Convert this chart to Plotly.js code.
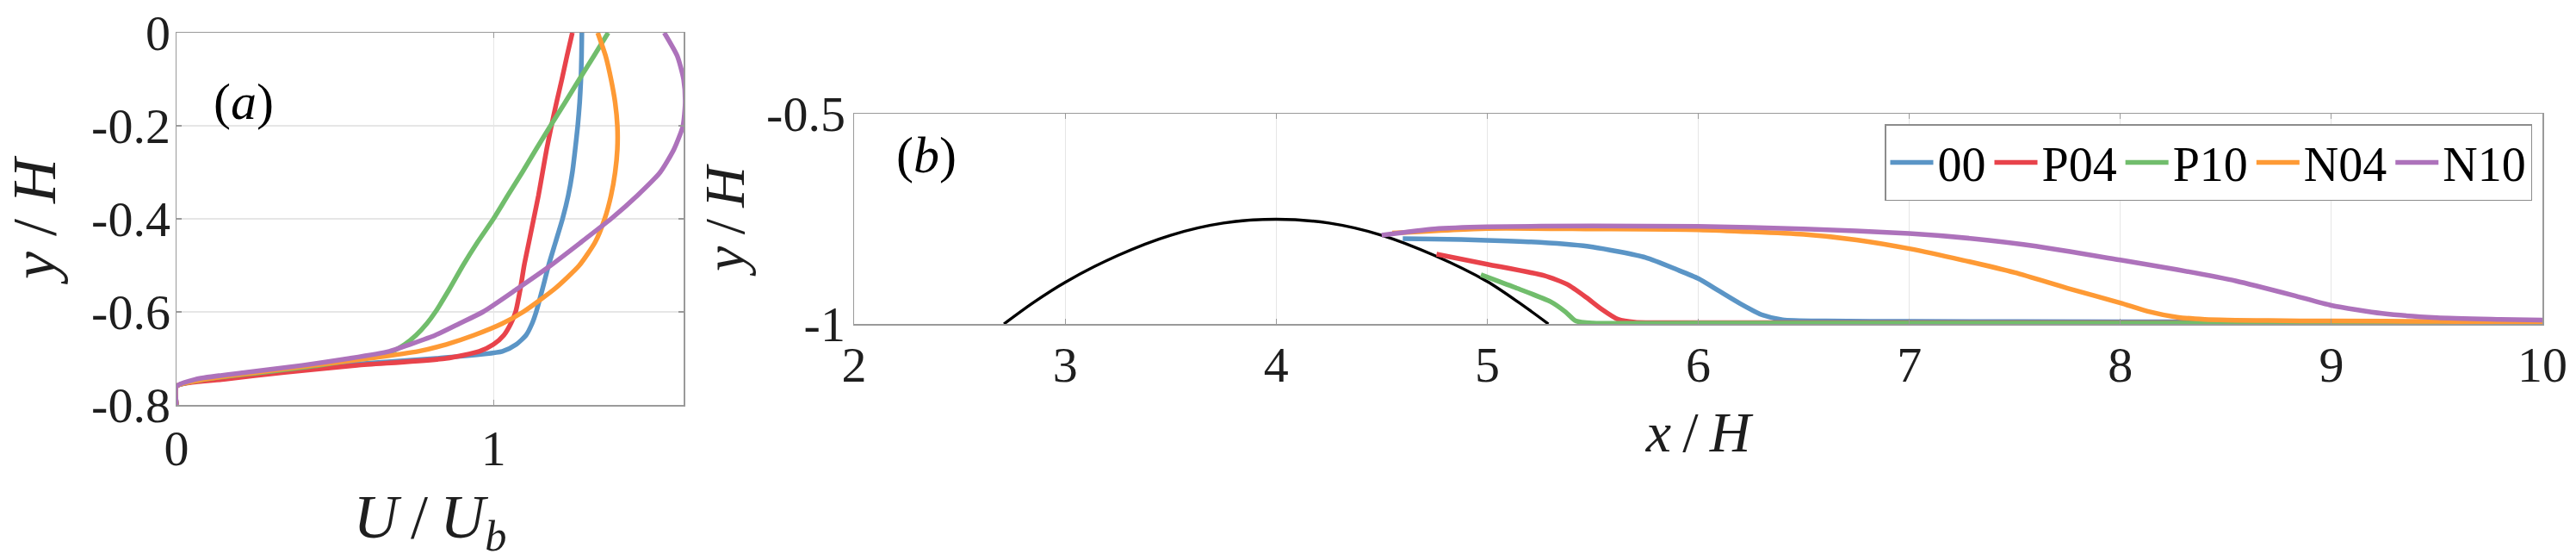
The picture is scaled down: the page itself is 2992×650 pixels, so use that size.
<!DOCTYPE html>
<html>
<head>
<meta charset="utf-8">
<script src="https://cdn.plot.ly/plotly-3.0.1.min.js"></script>
<style>html,body{margin:0;padding:0;background:#fff;}#chart{width:2992px;height:650px;}</style>
</head>
<body>
<div id="chart"></div>
<script>
// ---------- Panel (a): velocity profiles U/Ub vs y/H ----------
const yA = [0, -0.05, -0.1, -0.15, -0.2, -0.25, -0.3, -0.35, -0.4, -0.45, -0.5, -0.55, -0.6, -0.625, -0.65, -0.67, -0.685, -0.7, -0.715, -0.73, -0.745, -0.76, -0.8];
const uA_00  = [1.279,1.278,1.276,1.272,1.266,1.258,1.249,1.236,1.218,1.196,1.174,1.155,1.135,1.122,1.103,1.072,1.028,0.82,0.513,0.29,0.10,0,0];
const uA_P04 = [1.249,1.232,1.216,1.199,1.183,1.168,1.155,1.142,1.127,1.112,1.097,1.085,1.07,1.055,1.033,1.0,0.955,0.85,0.57,0.34,0.15,0,0];
const uA_P10 = [1.362,1.317,1.271,1.226,1.18,1.135,1.091,1.045,1.0,0.95,0.904,0.862,0.817,0.79,0.756,0.72,0.68,0.58,0.45,0.27,0.09,0,0];
const uA_N04 = [1.329,1.354,1.371,1.384,1.391,1.391,1.384,1.371,1.351,1.321,1.271,1.194,1.094,1.028,0.939,0.851,0.762,0.607,0.43,0.252,0.086,0,0];
const uA_N10 = [1.539,1.58,1.6,1.605,1.598,1.57,1.526,1.454,1.371,1.277,1.181,1.076,0.967,0.893,0.817,0.736,0.671,0.546,0.396,0.219,0.059,0,0];

// ---------- Panel (b): separation line y/H vs x/H ----------
const xHill = [2.71, 2.85, 3.0, 3.25, 3.5, 3.75, 4.0, 4.25, 4.5, 4.75, 5.0, 5.15, 5.29];
const yHill = [-1.0, -0.949, -0.901, -0.837, -0.789, -0.760, -0.751, -0.760, -0.789, -0.837, -0.899, -0.949, -1.0];

const xB_00  = [4.6, 4.75, 5.0, 5.25, 5.5, 5.75, 5.9, 6.0, 6.1, 6.2, 6.3, 6.4, 6.6, 7.0, 8.0, 9.0, 10.0];
const yB_00  = [-0.797, -0.798, -0.801, -0.806, -0.817, -0.842, -0.871, -0.892, -0.922, -0.952, -0.978, -0.990, -0.993, -0.994, -0.995, -0.995, -0.996];
const xB_P04 = [4.76, 5.0, 5.27, 5.38, 5.47, 5.54, 5.62, 5.7, 6.0, 7.0, 8.0, 9.0, 10.0];
const yB_P04 = [-0.834, -0.858, -0.885, -0.906, -0.937, -0.964, -0.989, -0.996, -0.997, -0.997, -0.997, -0.997, -0.997];
const xB_P10 = [4.97, 5.13, 5.3, 5.37, 5.42, 5.5, 6.0, 7.0, 8.0, 9.0, 10.0];
const yB_P10 = [-0.883, -0.913, -0.947, -0.971, -0.993, -0.998, -0.998, -0.998, -0.998, -0.998, -0.998];
const xB_N04 = [4.55, 5.0, 5.5, 6.0, 6.5, 6.75, 7.0, 7.25, 7.5, 7.75, 8.0, 8.13, 8.27, 8.4, 8.7, 9.0, 9.5, 10.0];
const yB_N04 = [-0.784, -0.773, -0.774, -0.776, -0.787, -0.800, -0.821, -0.848, -0.878, -0.915, -0.950, -0.970, -0.984, -0.989, -0.992, -0.993, -0.994, -0.996];
const xB_N10 = [4.5, 4.75, 5.0, 5.5, 6.0, 6.5, 7.0, 7.3, 7.6, 8.0, 8.27, 8.55, 8.82, 9.0, 9.24, 9.5, 9.8, 10.0];
const yB_N10 = [-0.789, -0.774, -0.769, -0.767, -0.768, -0.774, -0.785, -0.797, -0.815, -0.848, -0.871, -0.898, -0.932, -0.956, -0.975, -0.985, -0.989, -0.991];

const seriesNames = ['00', 'P04', 'P10', 'N04', 'N10'];
const seriesColors = ['#5b95c6', '#e8434b', '#71bd6c', '#fe9a35', '#ad72bb'];

// tick labels
const xTicksA = [0, 1];            const xTickTextA = ['0', '1'];
const yTicksA = [0, -0.2, -0.4, -0.6, -0.8]; const yTickTextA = ['0', '-0.2', '-0.4', '-0.6', '-0.8'];
const xTicksB = [2, 3, 4, 5, 6, 7, 8, 9, 10]; const xTickTextB = ['2','3','4','5','6','7','8','9','10'];
const yTicksB = [-0.5, -1];        const yTickTextB = ['-0.5', '-1'];

const uA = [uA_00, uA_P04, uA_P10, uA_N04, uA_N10];
const xB = [xB_00, xB_P04, xB_P10, xB_N04, xB_N10];
const yB = [yB_00, yB_P04, yB_P10, yB_N04, yB_N10];

const FONT = 'Liberation Serif';
const TXT = '#1e1e1e';
const LW = 5.5;

const traces = [];
for (let i = 0; i < 5; i++) {
  traces.push({
    type: 'scatter', mode: 'lines', x: uA[i], y: yA, xaxis: 'x', yaxis: 'y',
    line: {color: seriesColors[i], width: LW, shape: 'spline', smoothing: 0.6},
    showlegend: false, hoverinfo: 'skip', name: seriesNames[i]
  });
}
traces.push({
  type: 'scatter', mode: 'lines', x: xHill, y: yHill, xaxis: 'x2', yaxis: 'y2',
  line: {color: '#000000', width: 3.4, shape: 'spline', smoothing: 0.8},
  showlegend: false, hoverinfo: 'skip'
});
for (let i = 0; i < 5; i++) {
  traces.push({
    type: 'scatter', mode: 'lines', x: xB[i], y: yB[i], xaxis: 'x2', yaxis: 'y2',
    line: {color: seriesColors[i], width: LW, shape: 'spline', smoothing: 0.6},
    name: seriesNames[i], showlegend: true, hoverinfo: 'skip'
  });
}

function axisBase() {
  return {
    showline: true, linecolor: '#9a9a9a', linewidth: 1.5, mirror: 'ticks',
    ticks: 'inside', ticklen: 6, tickwidth: 1.2, tickcolor: '#9a9a9a',
    showgrid: true, gridcolor: '#e6e6e6', gridwidth: 1.2,
    zeroline: false, tickfont: {family: FONT, size: 58, color: TXT},
    tickmode: 'array', fixedrange: true
  };
}

const TS = '\u2009'; // thin space around the slash, like the math-mode spacing
const layout = {
  width: 2992, height: 650, autosize: false,
  margin: {l: 0, r: 0, t: 0, b: 0},
  paper_bgcolor: '#ffffff', plot_bgcolor: '#ffffff',
  font: {family: FONT, color: TXT},
  xaxis: Object.assign(axisBase(), {
    domain: [205/2992, 794/2992], range: [0, 1.6], anchor: 'y',
    tickvals: xTicksA, ticktext: xTickTextA, ticklabelstandoff: -1,
    title: {text: '<i>U</i>' + TS + '/' + TS + '<i>U</i><sub><i>b</i></sub>', font: {family: FONT, size: 72, color: TXT}, standoff: 30}
  }),
  yaxis: Object.assign(axisBase(), {
    domain: [180/650, 612/650], range: [-0.8, 0], anchor: 'x',
    tickvals: yTicksA, ticktext: yTickTextA, ticklabelstandoff: -6,
    title: {text: '<i>y</i> / <i>H</i>', font: {family: FONT, size: 72, color: TXT}, standoff: 18}
  }),
  xaxis2: Object.assign(axisBase(), {
    domain: [992/2992, 2953/2992], range: [2, 10], anchor: 'y2',
    tickvals: xTicksB, ticktext: xTickTextB, ticklabelstandoff: -4,
    title: {text: '<i>x</i>' + TS + '/' + TS + '<i>H</i>', font: {family: FONT, size: 66, color: TXT}, standoff: 22}
  }),
  yaxis2: Object.assign(axisBase(), {
    domain: [274/650, 518/650], range: [-1, -0.5], anchor: 'x2',
    tickvals: yTicksB, ticktext: yTickTextB, ticklabelstandoff: -3,
    title: {text: '<i>y</i>' + TS + '/' + TS + '<i>H</i>', font: {family: FONT, size: 66, color: TXT}, standoff: 4}
  }),
  legend: {
    orientation: 'h', x: 2941/2992, xanchor: 'right', y: (650-144)/650, yanchor: 'top',
    bgcolor: '#ffffff', bordercolor: '#8c8c8c', borderwidth: 1.5,
    font: {family: FONT, size: 56, color: '#000000'}, itemwidth: 50, tracegroupgap: 0
  },
  annotations: [
    {xref: 'paper', yref: 'paper', x: 283/2992, y: (650-118)/650, xanchor: 'center', yanchor: 'middle',
     text: '(<i>a</i>)', showarrow: false, font: {family: FONT, size: 60, color: '#000000'}},
    {xref: 'paper', yref: 'paper', x: 1076/2992, y: (650-180)/650, xanchor: 'center', yanchor: 'middle',
     text: '(<i>b</i>)', showarrow: false, font: {family: FONT, size: 60, color: '#000000'}}
  ],
  showlegend: true
};

Plotly.newPlot('chart', traces, layout, {displayModeBar: false, staticPlot: true});
</script>
</body>
</html>
